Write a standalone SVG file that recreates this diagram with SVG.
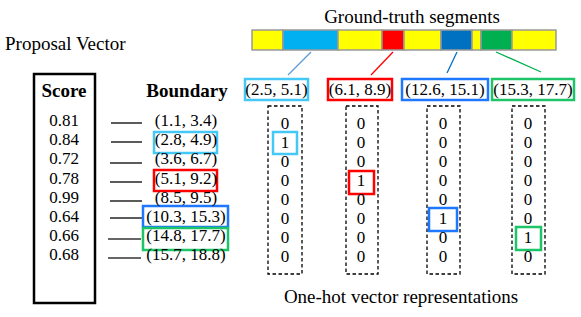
<svg xmlns="http://www.w3.org/2000/svg" width="581" height="317" viewBox="0 0 581 317">
<style>
text{font-family:"Liberation Serif","Times New Roman",serif;fill:#000}
.t{font-size:19px}
.b{font-size:19px;font-weight:bold}
.n{font-size:17px}
.m{text-anchor:middle}
.dash{fill:none;stroke:#000;stroke-width:1.3;stroke-dasharray:3.5 2.5}
.hl{fill:none;stroke-width:2.5}
.lb{stroke:#44C8F5}.rd{stroke:#FF0000}.bl{stroke:#1E78FF}.gr{stroke:#1DC468}
.seg{stroke:#999;stroke-width:1.5}
.tick{stroke:#333;stroke-width:1.6}
</style>
<rect width="581" height="317" fill="#fff"/>
<text class="t" x="5" y="50">Proposal Vector</text>
<text class="t m" x="412" y="23">Ground-truth segments</text>
<text class="t m" x="401" y="303">One-hot vector representations</text>

<g id="gt-bar">
<rect class="seg" x="252" y="30" width="31" height="20" fill="#FFFF00"/>
<rect class="seg" x="283" y="30" width="55" height="20" fill="#00B0F0"/>
<rect class="seg" x="338" y="30" width="44" height="20" fill="#FFFF00"/>
<rect class="seg" x="382" y="30" width="22" height="20" fill="#FF0000"/>
<rect class="seg" x="404" y="30" width="37" height="20" fill="#FFFF00"/>
<rect class="seg" x="441" y="30" width="31" height="20" fill="#0070C0"/>
<rect class="seg" x="472" y="30" width="9" height="20" fill="#FFFF00"/>
<rect class="seg" x="481" y="30" width="31" height="20" fill="#00B050"/>
<rect class="seg" x="512" y="30" width="44" height="20" fill="#FFFF00"/>
</g>

<g id="connectors" stroke-width="1.3">
<line x1="311" y1="52" x2="288" y2="75" stroke="#5B9BD5"/>
<line x1="393" y1="52" x2="371" y2="75" stroke="#FF0000"/>
<line x1="457" y1="52" x2="447" y2="73" stroke="#0070C0"/>
<line x1="496" y1="52" x2="541" y2="72" stroke="#00B050"/>
<g class="tick">
<line x1="111" y1="123" x2="142" y2="123"/>
<line x1="111" y1="142" x2="142" y2="142"/>
<line x1="110" y1="163" x2="142" y2="163"/>
<line x1="110" y1="182" x2="142" y2="182"/>
<line x1="110" y1="201" x2="142" y2="201"/>
<line x1="110" y1="218" x2="142" y2="218"/>
<line x1="108" y1="239" x2="141" y2="239"/>
<line x1="108" y1="258" x2="141" y2="258"/>
</g>
</g>

<g id="gt-labels">
<rect class="hl lb" x="245" y="79" width="63" height="21"/>
<text class="n m" x="276.5" y="95">(2.5, 5.1)</text>
<rect class="hl rd" x="328" y="79" width="64" height="21"/>
<text class="n m" x="360" y="95">(6.1, 8.9)</text>
<rect class="hl bl" x="402" y="79" width="86" height="21"/>
<text class="n m" x="445" y="95">(12.6, 15.1)</text>
<rect class="hl gr" x="492" y="79" width="82" height="21"/>
<text class="n m" x="533" y="95">(15.3, 17.7)</text>
</g>

<g id="score">
<rect x="34" y="74" width="61" height="229" fill="none" stroke="#000" stroke-width="2.5"/>
<text class="b m" x="64" y="97">Score</text>
<text class="n m" x="64" y="126">0.81</text>
<text class="n m" x="64" y="145">0.84</text>
<text class="n m" x="64" y="164">0.72</text>
<text class="n m" x="64" y="184">0.78</text>
<text class="n m" x="64" y="203">0.99</text>
<text class="n m" x="64" y="222">0.64</text>
<text class="n m" x="64" y="241">0.66</text>
<text class="n m" x="64" y="260">0.68</text>
</g>

<g id="boundary">
<text class="b m" x="187" y="97">Boundary</text>
<rect class="hl lb" x="154" y="132" width="63" height="21"/>
<rect class="hl rd" x="154" y="170" width="63" height="21"/>
<rect class="hl bl" x="143" y="206" width="85" height="21"/>
<rect class="hl gr" x="143" y="228" width="85" height="22"/>
<text class="n m" x="186" y="126">(1.1, 3.4)</text>
<text class="n m" x="186" y="145">(2.8, 4.9)</text>
<text class="n m" x="186" y="164">(3.6, 6.7)</text>
<text class="n m" x="186" y="184">(5.1, 9.2)</text>
<text class="n m" x="186" y="203">(8.5, 9.5)</text>
<text class="n m" x="186" y="222">(10.3, 15.3)</text>
<text class="n m" x="186" y="241">(14.8, 17.7)</text>
<text class="n m" x="186" y="260">(15.7, 18.8)</text>
</g>

<g id="onehot-1">
<rect class="dash" x="268" y="106" width="34" height="168"/>
<rect class="hl lb" x="273" y="132" width="24" height="22"/>
<text class="n m" x="285" y="129">0</text>
<text class="n m" x="285" y="148">1</text>
<text class="n m" x="285" y="167">0</text>
<text class="n m" x="285" y="186">0</text>
<text class="n m" x="285" y="205">0</text>
<text class="n m" x="285" y="224">0</text>
<text class="n m" x="285" y="243">0</text>
<text class="n m" x="285" y="262">0</text>
</g>

<g id="onehot-2">
<rect class="dash" x="346" y="106" width="32" height="168"/>
<rect class="hl rd" x="349" y="171" width="25" height="23"/>
<text class="n m" x="361" y="129">0</text>
<text class="n m" x="361" y="148">0</text>
<text class="n m" x="361" y="167">0</text>
<text class="n m" x="361" y="186">1</text>
<text class="n m" x="361" y="205">0</text>
<text class="n m" x="361" y="224">0</text>
<text class="n m" x="361" y="243">0</text>
<text class="n m" x="361" y="262">0</text>
</g>

<g id="onehot-3">
<rect class="dash" x="427" y="106" width="33" height="168"/>
<rect class="hl bl" x="429" y="208" width="28" height="23"/>
<text class="n m" x="443" y="129">0</text>
<text class="n m" x="443" y="148">0</text>
<text class="n m" x="443" y="167">0</text>
<text class="n m" x="443" y="186">0</text>
<text class="n m" x="443" y="205">0</text>
<text class="n m" x="443" y="224">1</text>
<text class="n m" x="443" y="243">0</text>
<text class="n m" x="443" y="262">0</text>
</g>

<g id="onehot-4">
<rect class="dash" x="512" y="106" width="33" height="168"/>
<rect class="hl gr" x="516" y="227" width="25" height="23"/>
<text class="n m" x="528" y="129">0</text>
<text class="n m" x="528" y="148">0</text>
<text class="n m" x="528" y="167">0</text>
<text class="n m" x="528" y="186">0</text>
<text class="n m" x="528" y="205">0</text>
<text class="n m" x="528" y="224">0</text>
<text class="n m" x="528" y="243">1</text>
<text class="n m" x="528" y="262">0</text>
</g>
</svg>
